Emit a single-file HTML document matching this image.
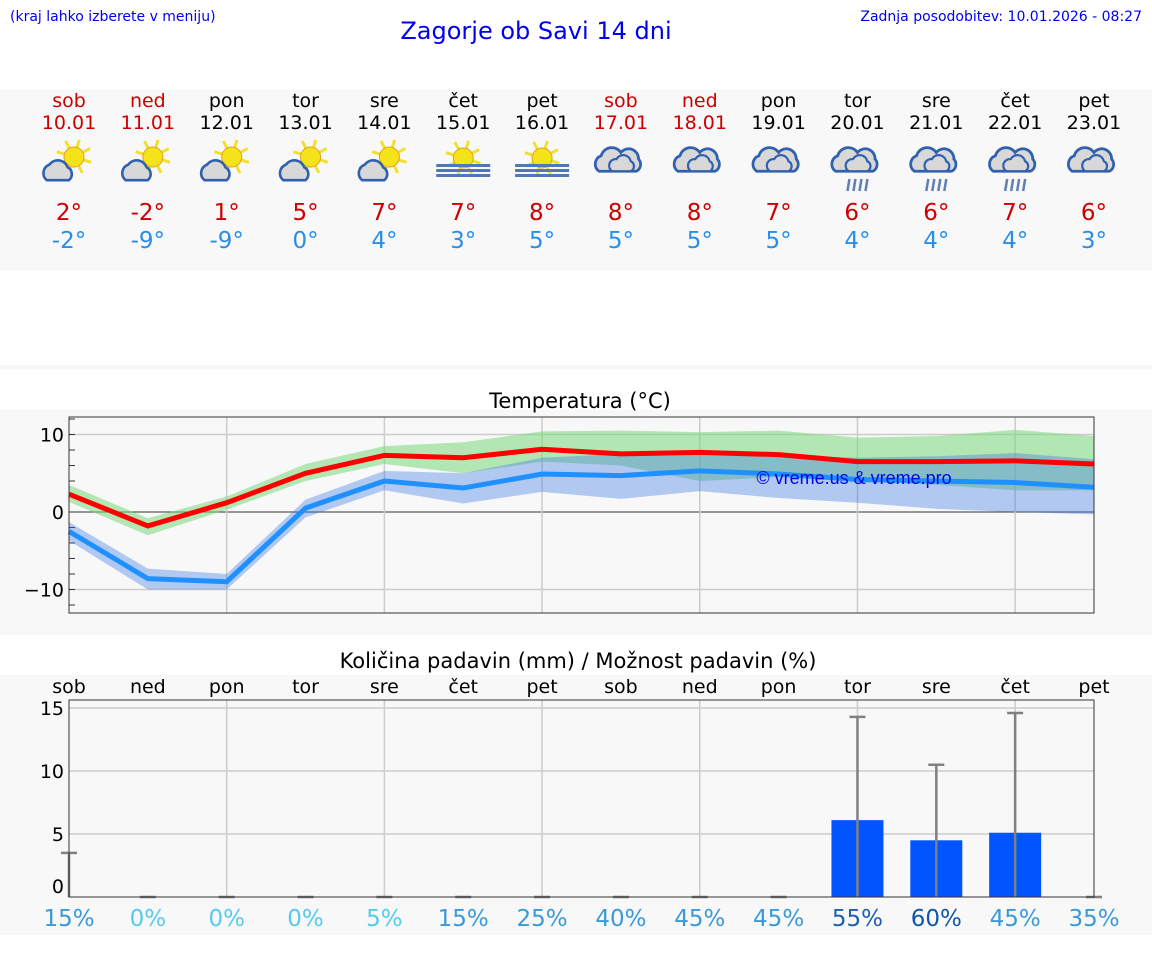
<!DOCTYPE html>
<html><head><meta charset="utf-8"><style>
body{margin:0;width:1152px;height:975px;background:#fff;font-family:"Liberation Sans","DejaVu Sans",sans-serif;position:relative;overflow:hidden}
svg{position:absolute;left:0;top:0}
</style></head><body>
<svg id="s" width="1152" height="975" font-family="DejaVu Sans, Liberation Sans, sans-serif">
<text x="10" y="21" font-size="14" fill="#0000ee">(kraj lahko izberete v meniju)</text>
<text x="536" y="39" font-size="24" fill="#0000ee" text-anchor="middle">Zagorje ob Savi 14 dni</text>
<text x="1142" y="21" font-size="14" fill="#0000ee" text-anchor="end">Zadnja posodobitev: 10.01.2026 - 08:27</text>
<rect x="0" y="90" width="1152" height="180" fill="#f8f8f8"/>
<rect x="0" y="365" width="1152" height="5" fill="#f8f8f8"/>
<rect x="0" y="410" width="1152" height="225" fill="#f8f8f8"/>
<rect x="0" y="675" width="1152" height="260" fill="#f8f8f8"/>
<text x="580" y="408" font-size="21" text-anchor="middle">Temperatura (°C)</text>
<text x="578" y="668" font-size="21" text-anchor="middle">Količina padavin (mm) / Možnost padavin (%)</text>
<g id="g"></g>
</svg>
<script>
const days=["sob","ned","pon","tor","sre","čet","pet","sob","ned","pon","tor","sre","čet","pet"];
const dates=["10.01","11.01","12.01","13.01","14.01","15.01","16.01","17.01","18.01","19.01","20.01","21.01","22.01","23.01"];
const icons=["ps","ps","ps","ps","ps","fog","fog","cl","cl","cl","rn","rn","rn","cl"];
const tmax=[2.3,-1.8,1.2,5.0,7.3,7.0,8.1,7.5,7.7,7.4,6.5,6.5,6.6,6.2];
const tmin=[-2.5,-8.6,-9.0,0.5,4.0,3.1,4.9,4.7,5.3,4.9,4.2,4.0,3.8,3.2];
const maxHi=[3.5,-0.8,2.0,6.2,8.5,9.0,10.4,10.5,10.3,10.5,9.6,9.8,10.6,9.8];
const maxLo=[1.3,-3.0,0.3,4.0,6.2,5.0,6.5,6.0,4.0,4.5,4.0,3.5,2.8,2.8];
const minHi=[-1.3,-7.3,-8.0,1.6,5.3,5.0,7.0,7.5,7.7,7.3,7.0,7.2,7.6,6.8];
const minLo=[-3.7,-10.0,-10.0,-0.7,2.8,1.1,2.6,1.7,2.7,1.8,1.2,0.4,0.0,-0.3];
const hiLbl=["2°","-2°","1°","5°","7°","7°","8°","8°","8°","7°","6°","6°","7°","6°"];
const loLbl=["-2°","-9°","-9°","0°","4°","3°","5°","5°","5°","5°","4°","4°","4°","3°"];
const precip=[0,0,0,0,0,0,0,0,0,0,6.1,4.5,5.1,0];
const precipErr=[3.5,0,0,0,0,0,0,0,0,0,14.3,10.5,14.6,0];
const chance=[15,0,0,0,5,15,25,40,45,45,55,60,45,35];
const tTicks=[-10,0,10];
const pTicks=[0,5,10,15];

const NS="http://www.w3.org/2000/svg",g=document.getElementById("g");
function el(t,a,p){const e=document.createElementNS(NS,t);for(const k in a)e.setAttribute(k,a[k]);(p||g).appendChild(e);return e;}
const X=i=>69+i*(1025/13);
const TY=v=>512-v*7.75;
const PY=v=>897-v*12.6;
days.forEach((d,i)=>{
  const red=(d==="sob"||d==="ned");
  let t=el("text",{x:X(i),y:107,"font-size":19,"text-anchor":"middle",fill:red?"#cc0000":"#000"});t.textContent=d;
  
  
  t=el("text",{x:X(i),y:129,"font-size":19,"text-anchor":"middle",fill:red?"#cc0000":"#000"});t.textContent=dates[i];
  
  
  t=el("text",{x:X(i),y:220,"font-size":23,"text-anchor":"middle",fill:"#cc0000"});t.textContent=hiLbl[i];
  
  
  t=el("text",{x:X(i),y:248,"font-size":23,"text-anchor":"middle",fill:"#2a8ee8"});t.textContent=loLbl[i];
  
  
  const ic=el("g",{transform:`translate(${X(i)},160)`});
  
  
  const k=icons[i];
  if(k==="ps"||k==="fog"){
    const sx=k==="ps"?5:0,sy=k==="ps"?-3:-2;
    for(let a=0;a<8;a++){const r=a*Math.PI/4+0.3;el("line",{x1:sx+Math.cos(r)*10,y1:sy+Math.sin(r)*10,x2:sx+Math.cos(r)*18,y2:sy+Math.sin(r)*18,stroke:"#f2e030","stroke-width":3},ic);}
    el("circle",{cx:sx,cy:sy,r:10,fill:"#f5e31a",stroke:"#e0a020","stroke-width":1},ic);
  }
  if(k==="ps"){
    el("path",{d:"M-14,14 a7,7 0 0 1 2,-12 a8,8 0 0 1 14,2 a6,6 0 0 1 1,10 z",fill:"#d8d8d8",stroke:"#3060b0","stroke-width":2,transform:"translate(-4,2) scale(1.3)"},ic);
  }else if(k==="fog"){
    [4,9,14].forEach(y=>el("rect",{x:-27,y:y,width:54,height:3,fill:"#5078b8"},ic));
  }else{
    const cg=el("g",{transform:"translate(0,-2) scale(1.1)"},ic);
    el("path",{d:"M-20,12 a8,8 0 0 1 2,-14 a10,10 0 0 1 18,-3 a9,9 0 0 1 16,6 a7,7 0 0 1 -2,11 z",fill:"#d8d8d8",stroke:"#3060b0","stroke-width":2.5},cg);
    el("path",{d:"M-8,12 a6,6 0 0 1 4,-11 a7,7 0 0 1 13,2 a5,5 0 0 1 0,9 z",fill:"#d8d8d8",stroke:"#3060b0","stroke-width":2},cg);
    if(k==="rn"){[-8,-2,4,10].forEach(x=>el("line",{x1:x,y1:19,x2:x-2,y2:31,stroke:"#6080b0","stroke-width":2.5},ic));}
  }
});
el("rect",{x:69,y:417,width:1025,height:196,fill:"#f8f8f8"});
tTicks.forEach(v=>{el("line",{x1:69,x2:1094,y1:TY(v),y2:TY(v),stroke:v===0?"#333":"#ccc","stroke-width":v===0?1:1.5});
 const t=el("text",{x:64,y:TY(v)+7,"font-size":19,"text-anchor":"end"});t.textContent=v<0?"−"+(-v):v;
 
 });
for(let v=-12;v<=12;v+=2)el("line",{x1:69,x2:75,y1:TY(v),y2:TY(v),stroke:"#333"});
for(let i=2;i<13;i+=2)el("line",{x1:X(i),x2:X(i),y1:417,y2:613,stroke:"#ccc","stroke-width":1.5});
function band(hi,lo,fill,name){let d="M"+hi.map((v,i)=>X(i)+","+TY(v)).join("L")+"L"+lo.map((v,i)=>X(i)+","+TY(v)).reverse().join("L")+"Z";
 const p=el("path",{d:d,fill:fill});}
band(maxHi,maxLo,"rgba(120,215,120,0.55)","max-temp-band");
band(minHi,minLo,"rgba(60,120,230,0.38)","min-temp-band");
function line(a,c,name){const p=el("polyline",{points:a.map((v,i)=>X(i)+","+TY(v)).join(" "),fill:"none",stroke:c,"stroke-width":5});
 }
line(tmin,"#1e90ff","min-temp-line");
line(tmax,"#ff0000","max-temp-line");
let wm=el("text",{x:854,y:484,"font-size":18,"text-anchor":"middle",fill:"#0000ee","font-family":"Liberation Sans, sans-serif"});wm.textContent="© vreme.us & vreme.pro";


el("rect",{x:69,y:417,width:1025,height:196,fill:"none",stroke:"#333"});
days.forEach((d,i)=>{const t=el("text",{x:X(i),y:693,"font-size":19,"text-anchor":"middle"});t.textContent=d;
 });
el("rect",{x:69,y:700,width:1025,height:197,fill:"#f8f8f8"});
pTicks.forEach(v=>{if(v>0)el("line",{x1:69,x2:1094,y1:PY(v),y2:PY(v),stroke:"#ccc","stroke-width":1.5});
 const t=el("text",{x:64,y:(v===0?886:PY(v))+7,"font-size":19,"text-anchor":"end"});t.textContent=v;
 });
for(let i=2;i<13;i+=2)el("line",{x1:X(i),x2:X(i),y1:700,y2:897,stroke:"#ccc","stroke-width":1.5});
precip.forEach((v,i)=>{
 if(v>0){const b=el("rect",{x:X(i)-26,y:PY(v),width:52,height:897-PY(v),fill:"#0055ff"});
  }
 const e=precipErr[i];
 if(e>0)el("line",{x1:X(i),x2:X(i),y1:PY(e),y2:897,stroke:"#808080","stroke-width":2.5});
 el("line",{x1:X(i)-8,x2:X(i)+8,y1:PY(e),y2:PY(e),stroke:"#808080","stroke-width":2.5});
 const c=chance[i];
 const col=c===0||c===5?"#55ccee":c>=55?"#1f5faf":"#3a9ad9";
 const t=el("text",{x:X(i),y:926,"font-size":23,"text-anchor":"middle",fill:c===60?"#1155aa":col});t.textContent=c+"%";
 
});
el("rect",{x:69,y:700,width:1025,height:197,fill:"none",stroke:"#333"});
</script>
</body></html>
